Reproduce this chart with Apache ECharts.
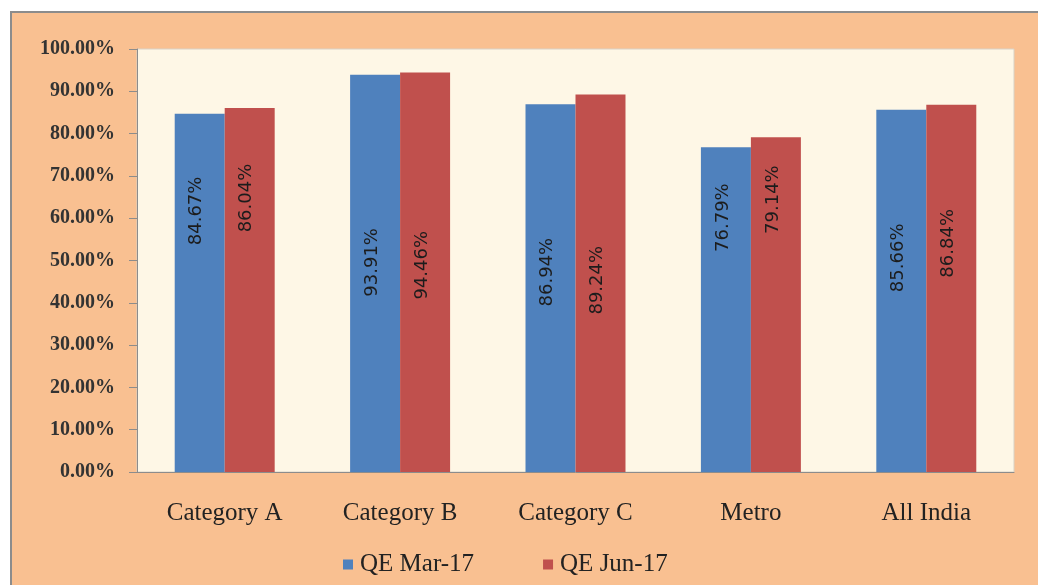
<!DOCTYPE html>
<html>
<head>
<meta charset="utf-8">
<script src="https://cdn.jsdelivr.net/npm/echarts@6/dist/echarts.min.js"></script>
<style>
    html, body { margin: 0; padding: 0; background: #ffffff; }
    #main {
        position: absolute; left: 10px; top: 11px;
        width: 1028px; height: 574px;
        border-top: 2px solid #8c8c8c; border-left: 2px solid #8c8c8c;
        background: #f9c091;
    }
</style>
</head>
<body>
<div id="main"></div>
<script>
let categories = ['Category A', 'Category B', 'Category C', 'Metro', 'All India'];
let seriesNames = ['QE Mar-17', 'QE Jun-17'];
let marData = [84.67, 93.91, 86.94, 76.79, 85.66];
let junData = [86.04, 94.46, 89.24, 79.14, 86.84];
let yTicks = [0, 10, 20, 30, 40, 50, 60, 70, 80, 90, 100];

// how far (px) each label is lifted above the middle of its bar
let marLift = [82, 11, 16, 92, 33];
let junLift = [92, 7, 3, 105, 45];

function withLabel(values, lifts) {
    return values.map(function (v, i) {
        // label is rotated 90deg, so its local x runs upward on screen
        return {value: v, label: {offset: [lifts[i], -3]}};
    });
}

let myChart = echarts.init(document.getElementById('main'));

let barLabel = {
    show: true,
    position: 'inside',
    rotate: 90,
    color: '#1c1c1c',
    fontFamily: 'DejaVu Sans',
    fontSize: 18,
    formatter: function (p) { return p.value.toFixed(2) + '%'; }
};

let option = {
    animation: false,
    textStyle: {fontFamily: 'Liberation Serif'},
    grid: {
        left: 125, right: 26, top: 36, bottom: 115,
        show: true,
        backgroundColor: '#fef7e6',
        borderColor: '#d9d2c6',
        borderWidth: 1
    },
    legend: {
        data: seriesNames,
        left: 326,
        top: 534,
        icon: 'rect',
        itemWidth: 10,
        itemHeight: 10,
        itemGap: 69,
        textStyle: {fontFamily: 'Liberation Serif', fontSize: 25, color: '#222', padding: [0, 0, 0, 2]}
    },
    xAxis: {
        type: 'category',
        data: categories,
        axisLine: {lineStyle: {color: '#8c8c8c', width: 1}},
        axisTick: {length: 8, lineStyle: {color: '#8c8c8c'}},
        axisLabel: {margin: 29, fontSize: 25, color: '#222', fontFamily: 'Liberation Serif'}
    },
    yAxis: {
        type: 'value',
        min: yTicks[0],
        max: yTicks[yTicks.length - 1],
        interval: yTicks[1] - yTicks[0],
        axisLine: {show: true, lineStyle: {color: '#8c8c8c', width: 1}},
        axisTick: {show: true, length: 8, lineStyle: {color: '#8c8c8c'}},
        splitLine: {show: false},
        axisLabel: {
            margin: 22, fontSize: 20, fontWeight: 'bold', color: '#333', fontFamily: 'Liberation Serif',
            formatter: function (v) { return v.toFixed(2) + '%'; }
        }
    },
    series: [
        {
            name: seriesNames[0],
            type: 'bar',
            barGap: '0%',
            barCategoryGap: '43%',
            itemStyle: {color: '#4f81bd'},
            label: barLabel,
            data: withLabel(marData, marLift)
        },
        {
            name: seriesNames[1],
            type: 'bar',
            itemStyle: {color: '#c0504d'},
            label: barLabel,
            data: withLabel(junData, junLift)
        }
    ]
};
myChart.setOption(option);
</script>
</body>
</html>
